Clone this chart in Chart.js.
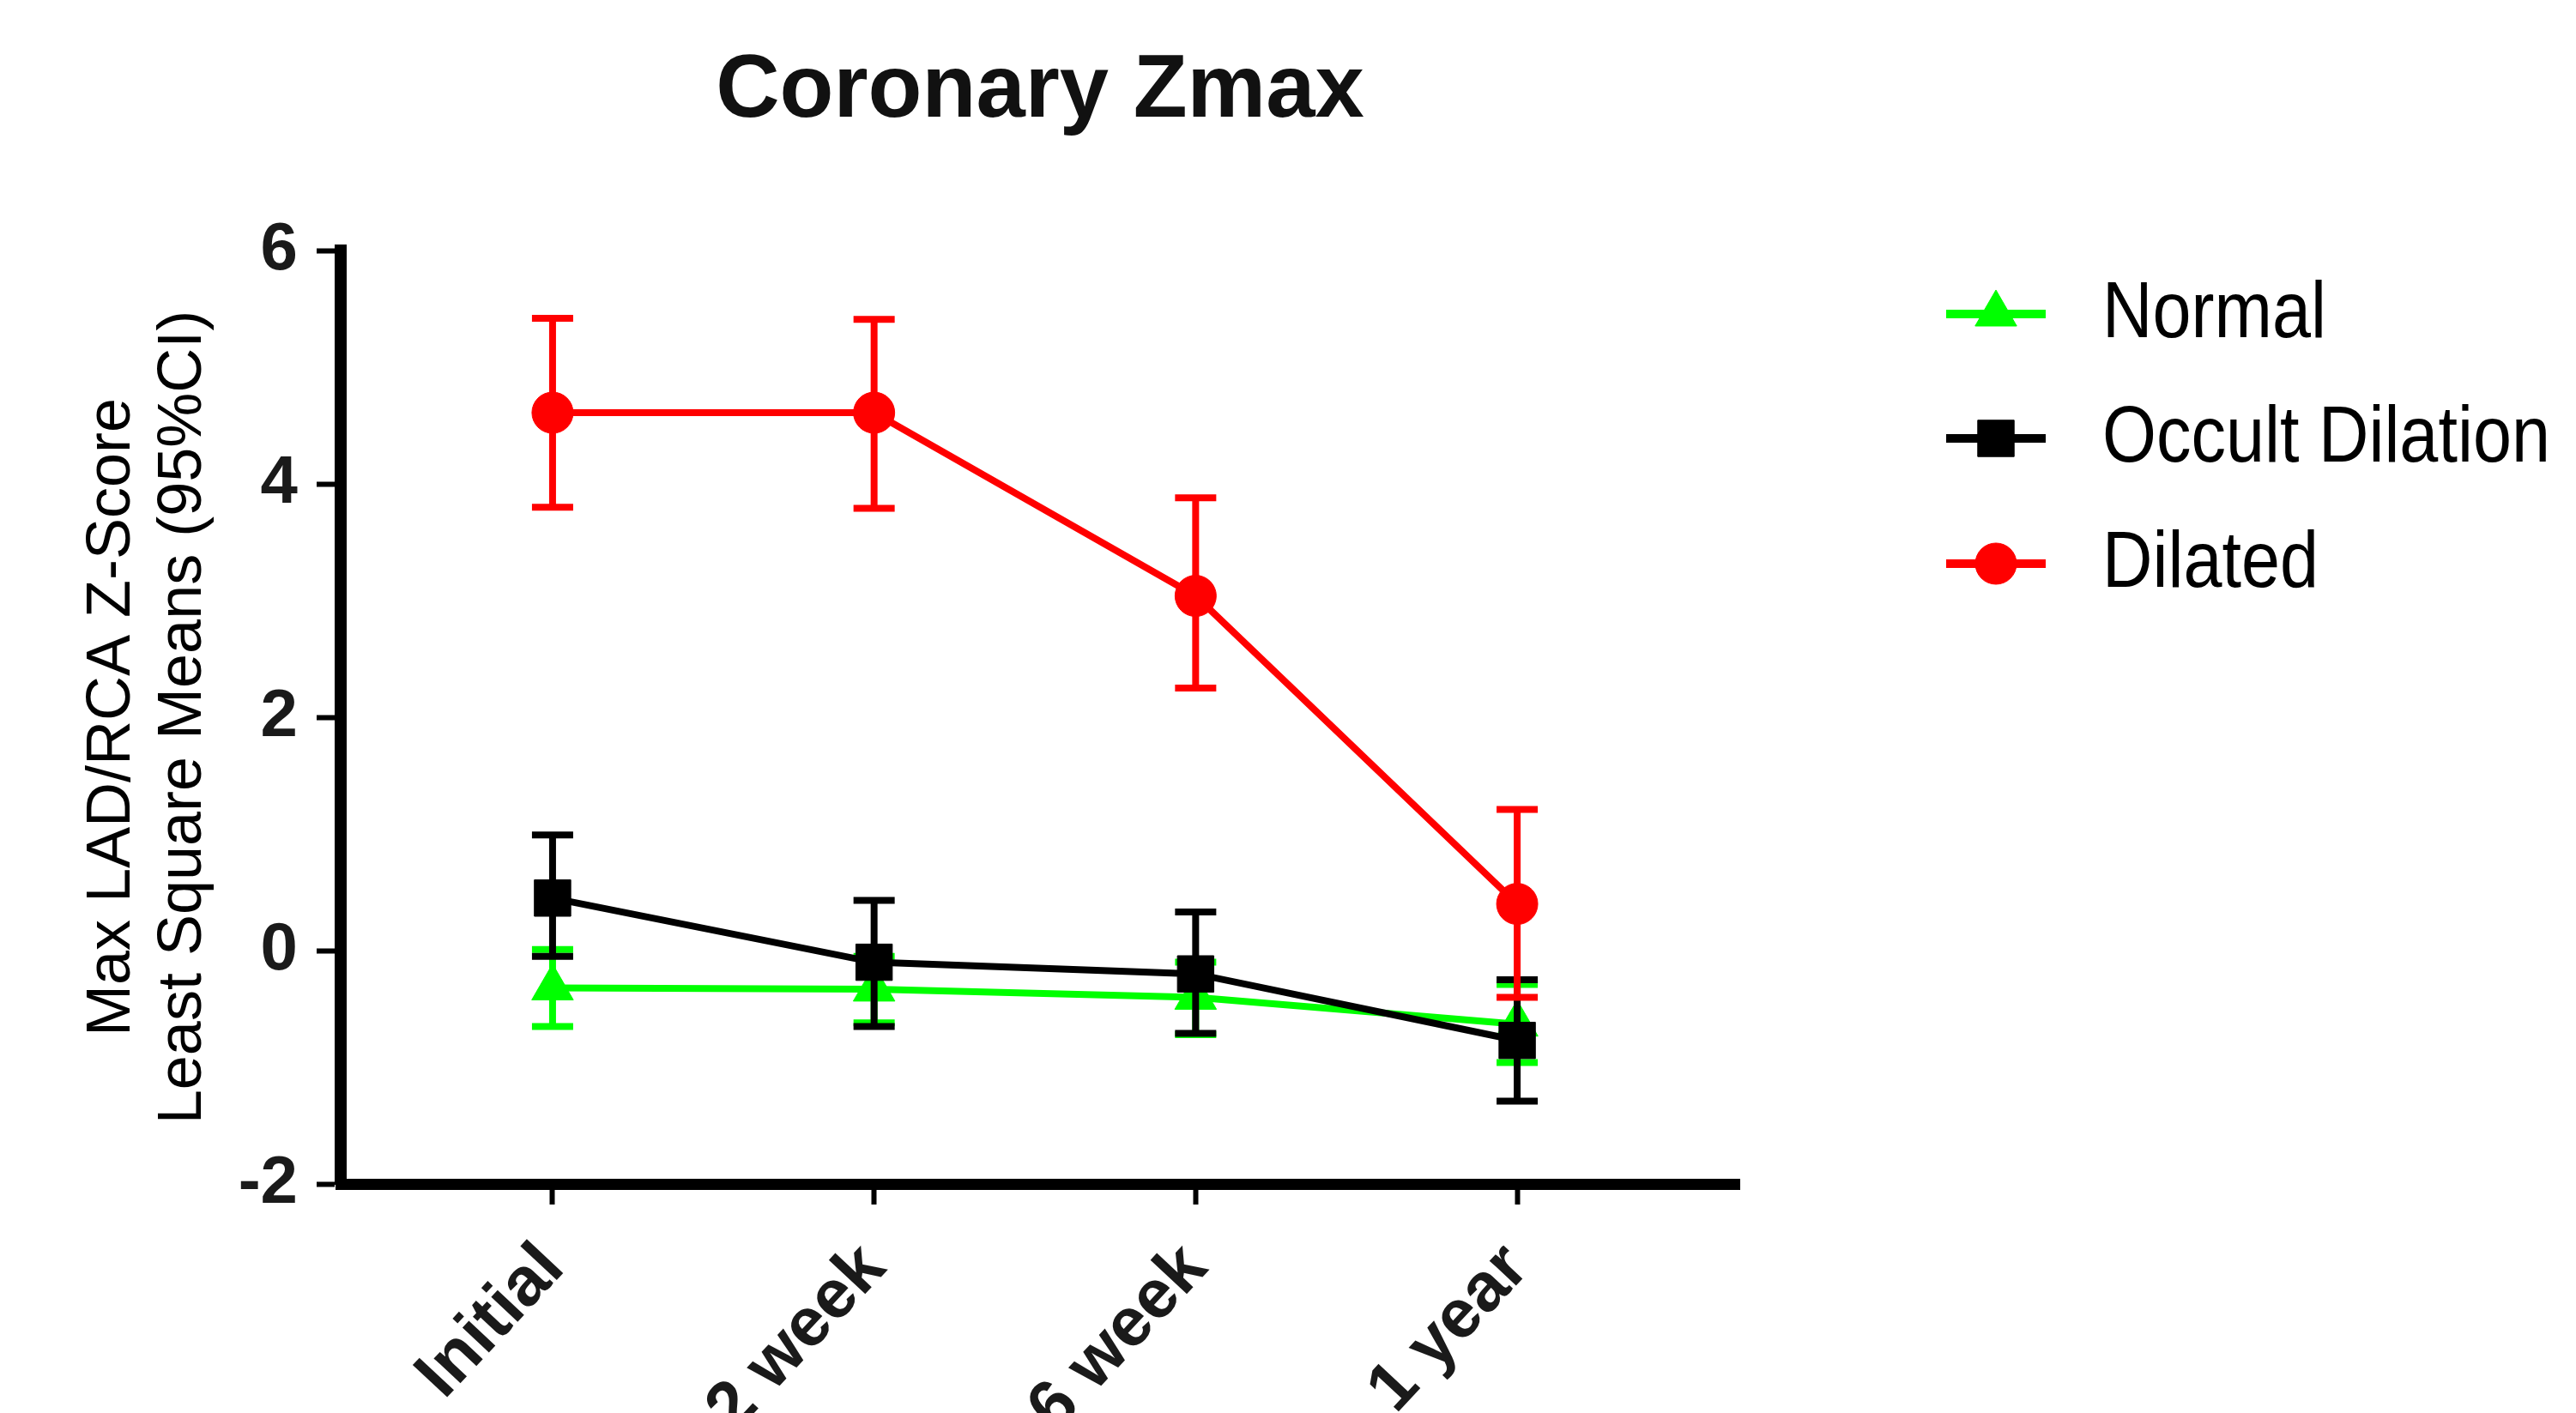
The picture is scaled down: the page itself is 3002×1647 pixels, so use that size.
<!DOCTYPE html>
<html>
<head>
<meta charset="utf-8">
<script src="https://cdn.jsdelivr.net/npm/chart.js@4.4.1/dist/chart.umd.min.js"></script>
<style>
  html, body { margin: 0; padding: 0; background: #fff; }
</style>
</head>
<body>
<canvas id="myChart" width="3002" height="1647"></canvas>
<script>
const categories = ["Initial", "2 week", "6 week", "1 year"];
const seriesNames = ["Normal", "Occult Dilation", "Dilated"];

// least square means with 95% CI
const normalMean = [-0.32, -0.33, -0.40, -0.63];
const normalLow = [-0.65, -0.62, -0.72, -0.96];
const normalHigh = [0.01, -0.05, -0.10, -0.29];

const occultMean = [0.45, -0.10, -0.20, -0.77];
const occultLow = [-0.05, -0.65, -0.71, -1.29];
const occultHigh = [0.99, 0.43, 0.33, -0.25];

const dilatedMean = [4.61, 4.61, 3.04, 0.40];
const dilatedLow = [3.80, 3.79, 2.25, -0.40];
const dilatedHigh = [5.42, 5.41, 3.88, 1.21];

const yTicks = [-2, 0, 2, 4, 6];

const FONT = '"Liberation Sans", Arial, sans-serif';

function points(values) {
	return values.map((v, i) => ({ x: i, y: v }));
}

// vertical CI whiskers, drawn just below each series' own line and markers
const errorBars = {
	id: "errorBars",
	beforeDatasetDraw(chart, args) {
		const ds = chart.data.datasets[args.index];
		const xs = chart.scales.x;
		const ys = chart.scales.y;
		const ctx = chart.ctx;
		ctx.save();
		ctx.strokeStyle = ds.borderColor;
		ctx.lineWidth = 8;
		ds.errLow.forEach((lo, i) => {
			const px = xs.getPixelForValue(i);
			const yl = ys.getPixelForValue(lo);
			const yh = ys.getPixelForValue(ds.errHigh[i]);
			ctx.beginPath();
			ctx.moveTo(px, yl);
			ctx.lineTo(px, yh);
			ctx.moveTo(px - 24, yl);
			ctx.lineTo(px + 24, yl);
			ctx.moveTo(px - 24, yh);
			ctx.lineTo(px + 24, yh);
			ctx.stroke();
		});
		ctx.restore();
	},
};

// legend to the right of the plot, as in the original figure
const sideLegend = {
	id: "sideLegend",
	afterDraw(chart) {
		const ctx = chart.ctx;
		const rows = [366, 511, 657];
		chart.data.datasets.forEach((ds, i) => {
			const y = rows[i];
			ctx.save();
			ctx.strokeStyle = ds.borderColor;
			ctx.fillStyle = ds.backgroundColor;
			ctx.lineWidth = 10;
			ctx.beginPath();
			ctx.moveTo(2268, y);
			ctx.lineTo(2384, y);
			ctx.stroke();
			ctx.lineWidth = 1;
			Chart.helpers.drawPoint(ctx, { pointStyle: ds.pointStyle, radius: ds.pointRadius, rotation: 0, borderWidth: 1 }, 2326, y);
			ctx.fillStyle = "#000";
			ctx.font = "92px " + FONT;
			ctx.textBaseline = "alphabetic";
			ctx.translate(2450, y + 27);
			ctx.scale(0.88, 1);
			ctx.fillText(ds.label, 0, 0);
			ctx.restore();
		});
	},
};

const ctx = document.getElementById("myChart");

const myChart = new Chart(ctx, {
	type: "line",
	data: {
		datasets: [
			{
				label: seriesNames[0],
				data: points(normalMean),
				errLow: normalLow,
				errHigh: normalHigh,
				borderColor: "#00ff00",
				backgroundColor: "#00ff00",
				borderWidth: 8,
				pointStyle: "triangle",
				pointRadius: 28,
				pointBorderWidth: 1,
				order: 3,
			},
			{
				label: seriesNames[1],
				data: points(occultMean),
				errLow: occultLow,
				errHigh: occultHigh,
				borderColor: "#000000",
				backgroundColor: "#000000",
				borderWidth: 8,
				pointStyle: "rect",
				pointRadius: 30,
				pointBorderWidth: 1,
				order: 2,
			},
			{
				label: seriesNames[2],
				data: points(dilatedMean),
				errLow: dilatedLow,
				errHigh: dilatedHigh,
				borderColor: "#ff0000",
				backgroundColor: "#ff0000",
				borderWidth: 8,
				pointStyle: "circle",
				pointRadius: 24,
				pointBorderWidth: 1,
				order: 1,
			},
		],
	},
	options: {
		responsive: false,
		animation: false,
		devicePixelRatio: 1,
		layout: {
			padding: { left: 0, right: 975, top: 0, bottom: 0 },
		},
		plugins: {
			legend: { display: false },
			tooltip: { enabled: false },
			title: {
				display: true,
				text: "Coronary Zmax",
				fullSize: false,
				color: "#111",
				font: { family: FONT, size: 103, weight: "bold", lineHeight: 1 },
				padding: { top: 56, bottom: 133 },
			},
		},
		scales: {
			x: {
				type: "linear",
				min: -0.659,
				max: 3.691,
				afterBuildTicks: (scale) => {
					scale.ticks = categories.map((c, i) => ({ value: i }));
				},
				afterFit: (scale) => {
					scale.height = 267;
				},
				grid: {
					drawOnChartArea: false,
					drawTicks: true,
					tickLength: 24,
					tickWidth: 6,
					tickColor: "#000",
				},
				border: { display: true, width: 13, color: "#000" },
				ticks: {
					autoSkip: false,
					maxRotation: 47,
					minRotation: 47,
					padding: 28,
					color: "#1a1a1a",
					font: { family: FONT, size: 80, weight: "bold" },
					callback: (value) => categories[value],
				},
			},
			y: {
				min: -2,
				max: 6,
				afterBuildTicks: (scale) => {
					scale.ticks = yTicks.map((v) => ({ value: v }));
				},
				afterFit: (scale) => {
					scale.width = 397;
				},
				grid: {
					drawOnChartArea: false,
					drawTicks: true,
					tickLength: 28,
					tickWidth: 6,
					tickColor: "#000",
				},
				border: { display: true, width: 14, color: "#000" },
				ticks: {
					padding: 22,
					color: "#1a1a1a",
					font: { family: FONT, size: 78, weight: "bold" },
				},
				title: {
					display: true,
					text: ["Max LAD/RCA Z-Score", "Least Square Means (95%CI)"],
					color: "#000",
					font: { family: FONT, size: 72, lineHeight: 1.153 },
					padding: { top: 90, bottom: 0 },
				},
			},
		},
	},
	plugins: [errorBars, sideLegend],
});
</script>
</body>
</html>
